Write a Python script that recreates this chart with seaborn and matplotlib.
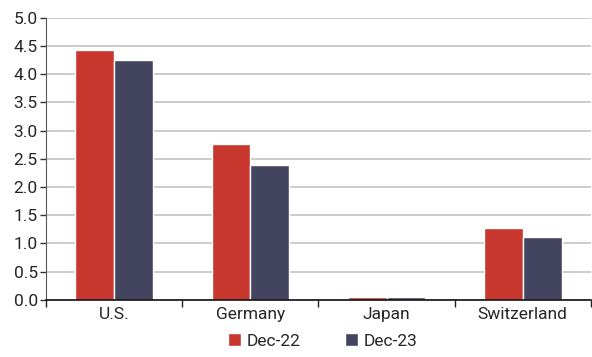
import pandas as pd
import seaborn as sns
import matplotlib.pyplot as plt
from matplotlib.ticker import FixedLocator

countries = ["U.S.", "Germany", "Japan", "Switzerland"]
dec22 = [4.43, 2.77, 0.05, 1.27]
dec23 = [4.25, 2.40, 0.05, 1.11]
series = ["Dec-22", "Dec-23"]
colors = {"Dec-22": "#C8372D", "Dec-23": "#434560"}

data = pd.DataFrame({
    "country": countries * 2,
    "value": dec22 + dec23,
    "series": [series[0]] * 4 + [series[1]] * 4,
})

sns.set_style("white")
plt.rcParams["font.family"] = ["Roboto", "DejaVu Sans"]
FS = 12.5

fig = plt.figure(figsize=(5.92, 3.57), dpi=100)
ax = fig.add_axes([0.078, 0.16, 0.92, 0.79])

sns.barplot(
    data, x="country", y="value", hue="series",
    hue_order=series, palette=colors, width=0.57,
    saturation=1, ax=ax,
)

ax.set_xlim(-0.5, 3.5)
ax.set_ylim(0, 5)
ax.set_yticks([i * 0.5 for i in range(11)])
ax.set_yticklabels([f"{i * 0.5:.1f}" for i in range(11)], fontsize=FS)
ax.yaxis.grid(True, color="#c4c4c4", lw=1.2)
ax.set_axisbelow(True)
ax.tick_params(axis="y", left=True, length=4, width=1, color="#333333", pad=2)
ax.tick_params(axis="x", which="major", length=0, labelsize=FS, pad=5)
ax.xaxis.set_minor_locator(FixedLocator([-0.5, 0.5, 1.5, 2.5, 3.5]))
ax.tick_params(axis="x", which="minor", bottom=True, length=5, width=1, color="#222222")
ax.set_xlabel("")
ax.set_ylabel("")

for s in ["top", "right"]:
    ax.spines[s].set_visible(False)
ax.spines["left"].set_color("#555555")
ax.spines["bottom"].set_color("#111111")
ax.spines["bottom"].set_linewidth(1.2)

handles, labels = ax.get_legend_handles_labels()
ax.get_legend().remove()
fig.legend(
    handles, labels, loc="lower center", ncol=2, frameon=False,
    fontsize=FS, bbox_to_anchor=(0.545, -0.02),
    handlelength=0.75, handleheight=0.75, handletextpad=0.3, columnspacing=2.6,
)

fig.savefig("out.png", dpi=100)
